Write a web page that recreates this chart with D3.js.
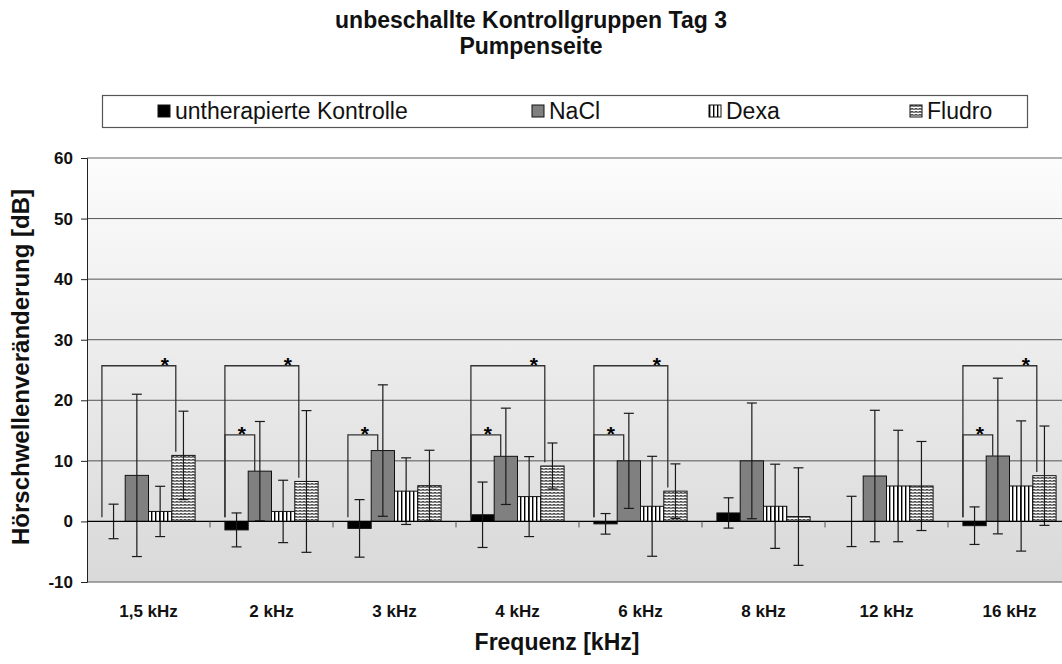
<!DOCTYPE html>
<html>
<head>
<meta charset="utf-8">
<script src="https://cdn.jsdelivr.net/npm/d3@7"></script>
<style>
  body { margin: 0; background: #fff; }
  svg { display: block; font-family: Arial, "Liberation Sans", sans-serif; }
</style>
</head>
<body>
<div id="chart"></div>
<script>
// values (dB)
const categories = ["1,5 kHz", "2 kHz", "3 kHz", "4 kHz", "6 kHz", "8 kHz", "12 kHz", "16 kHz"];
const seriesNames = ["untherapierte Kontrolle", "NaCl", "Dexa", "Fludro"];
const kontrolle   = [0, -1.4, -1.15, 1.1, -0.4, 1.4, 0, -0.7];
const kontrolleSD = [2.85, 2.8, 4.75, 5.4, 1.7, 2.5, 4.15, 3.1];
const nacl        = [7.6, 8.3, 11.7, 10.75, 10.0, 10.0, 7.5, 10.8];
const naclSD      = [13.4, 8.2, 10.85, 7.95, 7.85, 9.55, 10.85, 12.85];
const dexa        = [1.65, 1.65, 5.0, 4.1, 2.5, 2.5, 5.85, 5.85];
const dexaSD      = [4.15, 5.15, 5.5, 6.6, 8.25, 6.95, 9.2, 10.75];
const fludro      = [10.9, 6.6, 5.9, 9.15, 5.0, 0.8, 5.85, 7.55];
const fludroSD    = [7.3, 11.7, 5.85, 3.8, 4.5, 8.05, 7.35, 8.2];
const yTicks = [-10, 0, 10, 20, 30, 40, 50, 60];
// significance brackets: category index, comparison (short = Kontrolle vs NaCl, long = Kontrolle vs Fludro)
const brackets = [
  [0, "long"], [1, "short"], [1, "long"], [2, "short"], [3, "short"], [3, "long"],
  [4, "short"], [4, "long"], [7, "short"], [7, "long"]
];

const means = [kontrolle, nacl, dexa, fludro];
const sds = [kontrolleSD, naclSD, dexaSD, fludroSD];

const W = 1062, H = 664;
const svg = d3.select("#chart").append("svg").attr("width", W).attr("height", H);
const defs = svg.append("defs");

// plot background gradient
const grad = defs.append("linearGradient").attr("id", "bg").attr("x1", 0).attr("y1", 0).attr("x2", 0).attr("y2", 1);
grad.append("stop").attr("offset", "0%").attr("stop-color", "#fcfcfc");
grad.append("stop").attr("offset", "100%").attr("stop-color", "#d9d9d9");

// vertical stripes (Dexa)
const pv = defs.append("pattern").attr("id", "vstripe").attr("patternUnits", "userSpaceOnUse")
  .attr("width", 4).attr("height", 4);
pv.append("rect").attr("width", 4).attr("height", 4).attr("fill", "#fff");
pv.append("rect").attr("x", 0).attr("width", 1.4).attr("height", 4).attr("fill", "#000");

// fine horizontal waves (Fludro)
const ph = defs.append("pattern").attr("id", "hwave").attr("patternUnits", "userSpaceOnUse")
  .attr("width", 4).attr("height", 3);
ph.append("rect").attr("width", 4).attr("height", 3).attr("fill", "#fff");
ph.append("path").attr("d", "M0,1.2 L2,0.6 L4,1.2").attr("stroke", "#222").attr("stroke-width", 1.1).attr("fill", "none");

const fills = ["#000", "#808080", "url(#vstripe)", "url(#hwave)"];

const plotLeft = 87, plotTop = 158, plotBottom = 582;
const x = d3.scaleBand().domain(categories).range([plotLeft, plotLeft + 123 * categories.length]).padding(0);
const xs = d3.scaleBand().domain(d3.range(seriesNames.length)).range([0, x.bandwidth()])
  .paddingInner(0).paddingOuter(0.64);
const y = d3.scaleLinear().domain([-10, 60]).range([plotBottom, plotTop]);

// plot area
svg.append("rect").attr("x", plotLeft).attr("y", plotTop).attr("width", W - plotLeft).attr("height", plotBottom - plotTop)
  .attr("fill", "url(#bg)");

// gridlines
svg.append("g").selectAll("line").data(yTicks.filter(d => d > 0 && d < 60)).join("line")
  .attr("x1", plotLeft).attr("x2", W).attr("y1", d => y(d)).attr("y2", d => y(d))
  .attr("stroke", "#555").attr("stroke-width", 1);
svg.append("line").attr("x1", plotLeft).attr("x2", W).attr("y1", y(60)).attr("y2", y(60))
  .attr("stroke", "#999").attr("stroke-width", 1.5);
svg.append("line").attr("x1", plotLeft).attr("x2", W).attr("y1", y(-10)).attr("y2", y(-10))
  .attr("stroke", "#888").attr("stroke-width", 1.5);

// y axis
const yAxis = svg.append("g").attr("transform", `translate(${plotLeft},0)`)
  .call(d3.axisLeft(y).tickValues(yTicks).tickFormat(d => String(d)).tickSize(6).tickPadding(8));
yAxis.select(".domain").attr("stroke", "#222");
yAxis.selectAll(".tick line").attr("stroke", "#222");
yAxis.selectAll("text").attr("font-size", 17).attr("font-weight", "bold").attr("fill", "#111")
  .attr("font-family", "Arial, 'Liberation Sans', sans-serif");

// bars
const groups = svg.append("g").selectAll("g").data(categories).join("g")
  .attr("transform", c => `translate(${x(c)},0)`);

groups.each(function (c, ci) {
  const g = d3.select(this);
  seriesNames.forEach((s, si) => {
    const v = means[si][ci];
    g.append("rect")
      .attr("x", xs(si)).attr("width", xs.bandwidth())
      .attr("y", y(Math.max(0, v))).attr("height", Math.abs(y(v) - y(0)))
      .attr("fill", fills[si]).attr("stroke", "#111").attr("stroke-width", v === 0 ? 0 : 1);
  });
});

// zero line
svg.append("line").attr("x1", plotLeft).attr("x2", W).attr("y1", y(0)).attr("y2", y(0))
  .attr("stroke", "#000").attr("stroke-width", 1.2);
// category boundary ticks
svg.append("g").selectAll("line").data(categories.slice(1)).join("line")
  .attr("x1", c => x(c)).attr("x2", c => x(c)).attr("y1", y(0)).attr("y2", y(0) + 6)
  .attr("stroke", "#555");

// error bars
groups.each(function (c, ci) {
  const g = d3.select(this);
  seriesNames.forEach((s, si) => {
    const v = means[si][ci], e = sds[si][ci];
    const cx = xs(si) + xs.bandwidth() / 2;
    const eb = g.append("g").attr("stroke", "#1a1a1a").attr("stroke-width", 1.2);
    eb.append("line").attr("x1", cx).attr("x2", cx).attr("y1", y(v + e)).attr("y2", y(v - e));
    eb.append("line").attr("x1", cx - 5).attr("x2", cx + 5).attr("y1", y(v + e)).attr("y2", y(v + e));
    eb.append("line").attr("x1", cx - 5).attr("x2", cx + 5).attr("y1", y(v - e)).attr("y2", y(v - e));
  });
});

// significance brackets
const bg = svg.append("g");
brackets.forEach(([ci, kind]) => {
  const gx = x(categories[ci]);
  const lx = gx + xs(0);
  const target = kind === "short" ? 1 : 3;
  const rx = gx + xs(target) + (kind === "short" ? 6.5 : 4);
  const level = kind === "short" ? 14.3 : 25.7;
  const endV = means[target][ci] + (kind === "short" ? 0 : 0.6);
  bg.append("path")
    .attr("d", `M${lx},${y(0.7)} V${y(level)} H${rx} V${y(endV)}`)
    .attr("fill", "none").attr("stroke", "#333").attr("stroke-width", 1.3);
  bg.append("text").attr("x", lx + (kind === "short" ? 17 : 63)).attr("y", y(level) + 6)
    .attr("text-anchor", "middle").attr("font-size", 21).attr("font-weight", "bold").text("*");
});

// category labels
svg.append("g").selectAll("text").data(categories).join("text")
  .attr("x", c => x(c) + x.bandwidth() / 2).attr("y", 617)
  .attr("text-anchor", "middle").attr("font-size", 17).attr("font-weight", "bold").attr("fill", "#111")
  .text(c => c);

// axis titles
svg.append("text").attr("x", 557).attr("y", 650).attr("text-anchor", "middle")
  .attr("font-size", 23).attr("font-weight", "bold").attr("fill", "#111").text("Frequenz [kHz]");
svg.append("text").attr("transform", "translate(29,367) rotate(-90)").attr("text-anchor", "middle")
  .attr("font-size", 24).attr("font-weight", "bold").attr("fill", "#111").text("Hörschwellenveränderung [dB]");

// title
svg.append("text").attr("x", 531).attr("y", 28).attr("text-anchor", "middle")
  .attr("font-size", 23).attr("font-weight", "bold").attr("fill", "#111")
  .text("unbeschallte Kontrollgruppen Tag 3");
svg.append("text").attr("x", 531).attr("y", 54).attr("text-anchor", "middle")
  .attr("font-size", 23).attr("font-weight", "bold").attr("fill", "#111").text("Pumpenseite");

// legend
const lg = svg.append("g");
lg.append("rect").attr("x", 102.5).attr("y", 95.5).attr("width", 925).attr("height", 32)
  .attr("fill", "#fff").attr("stroke", "#555").attr("stroke-width", 1.2);
const legendX = [158, 532, 709, 910];
const items = lg.selectAll("g.item").data(seriesNames).join("g").attr("class", "item")
  .attr("transform", (d, i) => `translate(${legendX[i]},111)`);
items.append("rect").attr("x", 0).attr("y", -6).attr("width", 12).attr("height", 12)
  .attr("fill", (d, i) => fills[i]).attr("stroke", "#111").attr("stroke-width", 1);
items.append("text").attr("x", 17).attr("y", 8).attr("font-size", 23).attr("fill", "#111").text(d => d);
</script>
</body>
</html>
